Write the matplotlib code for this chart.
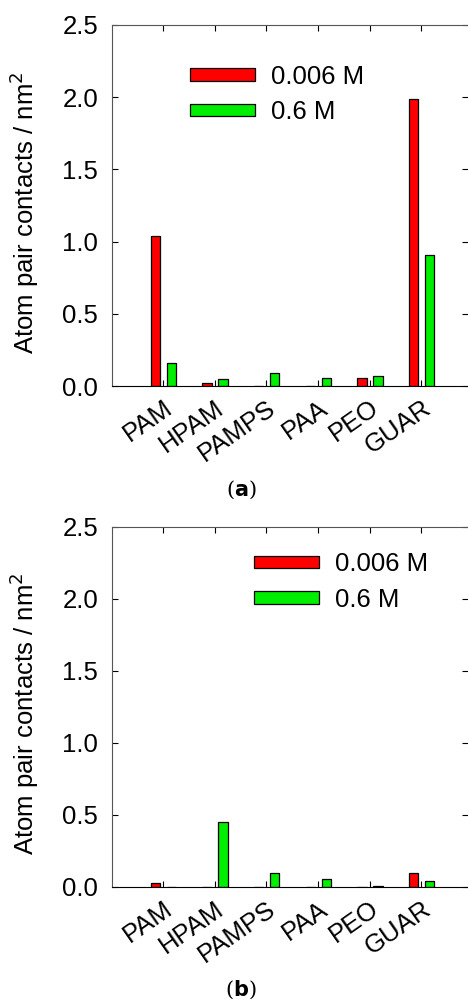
import numpy as np
import matplotlib.pyplot as plt

plt.rcParams['font.family'] = ['Liberation Sans', 'DejaVu Sans']

polymers = ['PAM', 'HPAM', 'PAMPS', 'PAA', 'PEO', 'GUAR']
labels = ['0.006 M', '0.6 M']
# panel (a)
a_low = [1.04, 0.02, 0.0, 0.0, 0.055, 1.99]
a_high = [0.16, 0.05, 0.09, 0.055, 0.07, 0.91]
# panel (b)
b_low = [0.03, 0.0, 0.0, 0.0, 0.0, 0.10]
b_high = [0.0, 0.45, 0.095, 0.055, 0.005, 0.045]

fig = plt.figure(figsize=(4.68, 10.08), dpi=100)
W, H = 468, 1008
fs = 18.5

def panel(box, low, high, leg_pos, tag, tag_y):
    x0, y0, x1, y1 = box
    ax = fig.add_axes([x0 / W, 1 - y1 / H, (x1 - x0) / W, (y1 - y0) / H])
    x = np.arange(len(polymers))
    ax.bar(x - 0.15, low, 0.18, color='#ff0000', edgecolor='black', lw=0.9, label=labels[0])
    ax.bar(x + 0.16, high, 0.18, color='#00ee00', edgecolor='black', lw=0.9, label=labels[1])
    ax.set_xlim(-0.99, 5.9)
    ax.set_ylim(0, 2.5)
    ax.set_yticks([0, 0.5, 1.0, 1.5, 2.0, 2.5])
    ax.set_yticklabels(['0.0', '0.5', '1.0', '1.5', '2.0', '2.5'], fontsize=fs)
    ax.set_xticks(x)
    ax.set_xticklabels(polymers, fontsize=fs, rotation=35, ha='right', rotation_mode='anchor')
    ax.tick_params(axis='both', direction='in', top=True, right=True, length=4, width=0.8)
    ax.tick_params(axis='x', pad=7)
    ax.tick_params(axis='y', pad=10)
    for s in ['left', 'top']:
        ax.spines[s].set_color('#555555')
    ax.spines['bottom'].set_color('black')
    ax.spines['right'].set_visible(False)
    ax.set_ylabel('Atom pair contacts / nm$^2$', fontsize=fs)
    ax.yaxis.set_label_coords(-0.20, 0.48)
    ax.legend(loc='upper left', bbox_to_anchor=leg_pos, frameon=False, fontsize=fs,
              handlelength=2.5, handleheight=0.35, handletextpad=0.65, labelspacing=0.45,
              borderpad=0, borderaxespad=0)
    fig.text(0.515, 1 - tag_y / H, r'($\mathbf{' + tag + '}$)', fontsize=15, ha='center',
             va='center', family='DejaVu Serif')
    return ax

panel((112, 25, 468, 386), a_low, a_high, (0.22, 0.89), 'a', 490)
panel((112, 527, 468, 887), b_low, b_high, (0.40, 0.93), 'b', 990)

fig.savefig('out.png', dpi=100)
